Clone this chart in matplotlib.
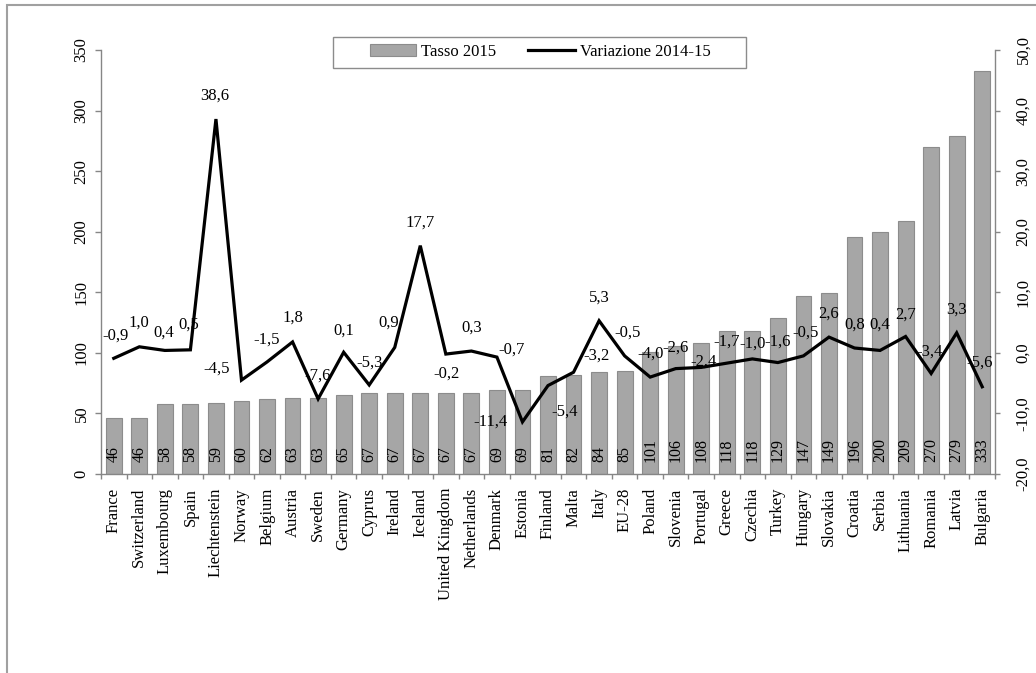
import matplotlib
matplotlib.use("Agg")
import matplotlib.pyplot as plt
from matplotlib.patches import Rectangle
from matplotlib.lines import Line2D
from matplotlib.ticker import FuncFormatter

plt.rcParams['font.family'] = ['Liberation Serif', 'DejaVu Serif']

# --- data -------------------------------------------------------------
countries = [
    "France", "Switzerland", "Luxembourg", "Spain", "Liechtenstein", "Norway",
    "Belgium", "Austria", "Sweden", "Germany", "Cyprus", "Ireland", "Iceland",
    "United Kingdom", "Netherlands", "Denmark", "Estonia", "Finland", "Malta",
    "Italy", "EU-28", "Poland", "Slovenia", "Portugal", "Greece", "Czechia",
    "Turkey", "Hungary", "Slovakia", "Croatia", "Serbia", "Lithuania",
    "Romania", "Latvia", "Bulgaria",
]
tasso_2015 = [46, 46, 58, 58, 59, 60, 62, 63, 63, 65, 67, 67, 67, 67, 67, 69,
              69, 81, 82, 84, 85, 101, 106, 108, 118, 118, 129, 147, 149, 196,
              200, 209, 270, 279, 333]
variazione = [-0.9, 1.0, 0.4, 0.5, 38.6, -4.5, -1.5, 1.8, -7.6, 0.1, -5.3, 0.9,
              17.7, -0.2, 0.3, -0.7, -11.4, -5.4, -3.2, 5.3, -0.5, -4.0, -2.6,
              -2.4, -1.7, -1.0, -1.6, -0.5, 2.6, 0.8, 0.4, 2.7, -3.4, 3.3, -5.6]
series_names = ["Tasso 2015", "Variazione 2014-15"]

# --- placement of the line's value labels (pixel offsets from the point) ----
label_offsets = {
    "France": (2, 23), "Switzerland": (0, 24), "Luxembourg": (-1, 18),
    "Spain": (-2, 25), "Liechtenstein": (-1, 23), "Norway": (-25, 11),
    "Belgium": (0, 22), "Austria": (0, 24), "Sweden": (0, 23),
    "Germany": (0, 22), "Cyprus": (0, 22), "Ireland": (-6, 25),
    "Iceland": (0, 23), "United Kingdom": (1, -20), "Netherlands": (0, 23),
    "Denmark": (15, 7), "Estonia": (-32, 0), "Finland": (17, -26),
    "Malta": (23, 17), "Italy": (0, 23), "EU-28": (3, 23), "Poland": (0, 23),
    "Slovenia": (0, 21), "Portugal": (2, 6), "Greece": (0, 22),
    "Czechia": (0, 15), "Turkey": (0, 21), "Hungary": (2, 23),
    "Slovakia": (0, 23), "Croatia": (0, 23), "Serbia": (0, 26),
    "Lithuania": (0, 22), "Romania": (-2, 22), "Latvia": (0, 23),
    "Bulgaria": (-3, 24),
}

BAR_FILL = "#A6A6A6"
BAR_EDGE = "#8C8C8C"
AXIS_GREY = "#868686"
FS = 12


def comma1(v, _pos=None):
    return f"{v:.1f}".replace(".", ",")


W, H = 1036, 673
fig = plt.figure(figsize=(W / 100, H / 100), dpi=100)
ax = fig.add_axes([101 / W, 1 - 474 / H, (995 - 101) / W, (474 - 50) / H])
ax2 = ax.twinx()

n = len(countries)
xs = list(range(n))

# bars (left axis)
ax.bar(xs, tasso_2015, width=0.62, color=BAR_FILL, edgecolor=BAR_EDGE,
       linewidth=0.8, zorder=2)
for i, v in enumerate(tasso_2015):
    ax.annotate(str(v), (i, 0), xytext=(0, 12), textcoords="offset pixels",
                rotation=90, ha="center", va="bottom", fontsize=11.5,
                color="black", zorder=3)

ax.set_xlim(-0.5, n - 0.5)
ax.set_ylim(0, 350)
ax.set_yticks(range(0, 351, 50))
ax.set_xticks(xs)
ax.set_xticklabels(countries, rotation=90, ha="center", va="top", fontsize=FS)
ax.set_xticks([i - 0.5 for i in range(n + 1)], minor=True)
ax.tick_params(axis="x", which="major", length=0, pad=10)
ax.tick_params(axis="x", which="minor", length=3.6, color=AXIS_GREY, width=1)
ax.tick_params(axis="y", length=4.3, color=AXIS_GREY, width=1, labelsize=FS,
               pad=4)
for lbl in ax.get_yticklabels():
    lbl.set_rotation(90)
    lbl.set_va("center")

for side in ("top", "right"):
    ax.spines[side].set_visible(False)
for side in ("left", "bottom"):
    ax.spines[side].set_color(AXIS_GREY)
    ax.spines[side].set_linewidth(1)

# line (right axis)
ax2.plot(xs, variazione, color="black", linewidth=2.3, zorder=3,
         solid_joinstyle="miter")
for i, (c, v) in enumerate(zip(countries, variazione)):
    dx, dy = label_offsets[c]
    ax2.annotate(comma1(v), (i, v), xytext=(dx, dy), textcoords="offset pixels",
                 ha="center", va="center", fontsize=FS, color="black")

ax2.set_ylim(-20, 50)
ax2.set_yticks(range(-20, 51, 10))
ax2.yaxis.set_major_formatter(FuncFormatter(comma1))
ax2.tick_params(axis="y", length=3.6, color=AXIS_GREY, width=1, labelsize=FS,
                pad=11)
for lbl in ax2.get_yticklabels():
    lbl.set_rotation(90)
    lbl.set_va("center")
for side in ("top", "left", "bottom"):
    ax2.spines[side].set_visible(False)
ax2.spines["right"].set_color(AXIS_GREY)
ax2.spines["right"].set_linewidth(1)

# legend
handles = [
    Rectangle((0, 0), 1, 1, facecolor=BAR_FILL, edgecolor=BAR_EDGE, linewidth=0.8),
    Line2D([], [], color="black", linewidth=2.3),
]
fig.legend(handles, series_names, loc="center",
           bbox_to_anchor=(540 / W, 1 - 52 / H), ncol=2, frameon=False,
           handlelength=2.8, handletextpad=0.3, columnspacing=1.9,
           fontsize=FS)
fig.add_artist(Rectangle((333 / W, 1 - 68 / H), (746 - 333) / W, 31 / H,
                         transform=fig.transFigure, fill=False,
                         edgecolor=BAR_EDGE, linewidth=1))

# outer chart frame
fig.add_artist(Rectangle((7 / W, -0.5), 2, 0.5 + 1 - 5 / H,
                         transform=fig.transFigure, fill=False,
                         edgecolor="#A0A0A0", linewidth=1.5))

fig.savefig("out.png", dpi=100)
